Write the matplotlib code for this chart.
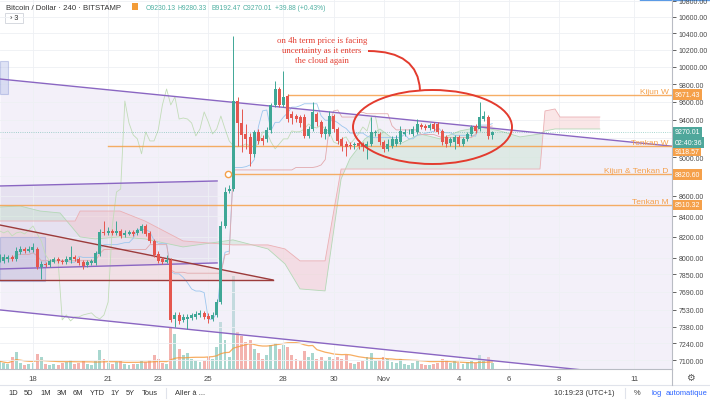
import numpy as np
import pandas as pd
import matplotlib
matplotlib.use('Agg')
import matplotlib.pyplot as plt
from matplotlib.patches import Ellipse, Polygon, Rectangle, PathPatch
from matplotlib.path import Path
from matplotlib.lines import Line2D
from matplotlib.ticker import NullLocator

plt.rcParams['font.family'] = ['Liberation Sans', 'DejaVu Sans']

# BTC/USD Bitstamp, bougies 4h. 1ere bougie : 16 oct. 16:00 (jour du mois d'octobre)
t_start = 16 + 16 / 24

opens = [7990, 7972, 7990, 8009, 7990, 8056, 8084, 8065, 8075, 8084,
         7916, 7944, 7935, 7962, 7990, 7972, 7962, 7981, 8009, 7990,
         7962, 7935, 7953, 7953, 8037, 8246, 8237, 8256, 8237, 8256,
         8217, 8227, 8246, 8237, 8256, 8304, 8237, 8160, 8037, 7990,
         7962, 7981, 7450, 7484, 7441, 7450, 7458, 7467, 7484, 7502,
         7475, 7450, 7484, 7598, 8304, 8650, 8670, 9609, 9365, 9246,
         9214, 9034, 9268, 9204, 9193, 9290, 9565, 9745, 9565, 9666,
         9464, 9442, 9431, 9431, 9225, 9300, 9464, 9376, 9246, 9246,
         9442, 9300, 9193, 9139, 9129, 9129, 9150, 9139, 9108, 9139,
         9257, 9246, 9161, 9087, 9118, 9139, 9161, 9246, 9268, 9246,
         9268, 9344, 9333, 9311, 9355, 9355, 9279, 9214, 9150, 9161,
         9214, 9139, 9193, 9246, 9333, 9300, 9409, 9431, 9230.13]
highs = [8037, 8037, 8028, 8028, 8103, 8112, 8103, 8112, 8141, 8103,
         7972, 7962, 7990, 8009, 8009, 7990, 8018, 8112, 8028, 8009,
         7981, 7981, 7990, 8065, 8275, 8352, 8295, 8275, 8352, 8275,
         8265, 8265, 8265, 8285, 8323, 8323, 8256, 8179, 8065, 8009,
         8028, 8000, 7510, 7510, 7493, 7493, 7502, 7519, 7528, 7519,
         7502, 7510, 7625, 8352, 8691, 8711, 10367, 9654, 9520, 9355,
         9257, 9290, 9300, 9236, 9322, 9587, 9836, 9767, 9952, 9688,
         9498, 9464, 9453, 9464, 9333, 9598, 9487, 9398, 9333, 9498,
         9464, 9322, 9214, 9171, 9161, 9161, 9182, 9161, 9171, 9431,
         9290, 9268, 9182, 9193, 9225, 9236, 9333, 9300, 9300, 9333,
         9409, 9365, 9355, 9365, 9376, 9376, 9300, 9236, 9214, 9236,
         9236, 9214, 9268, 9344, 9355, 9598, 9498, 9453, 9280.33]
lows = [7962, 7953, 7962, 7972, 7972, 8037, 8046, 8056, 8056, 7897,
        7805, 7916, 7916, 7953, 7953, 7944, 7944, 7953, 7972, 7935,
        7897, 7916, 7935, 7935, 8018, 8217, 8217, 8217, 8217, 8189,
        8198, 8217, 8208, 8217, 8237, 8208, 8141, 8009, 7953, 7944,
        7953, 7424, 7381, 7407, 7424, 7364, 7441, 7450, 7467, 7450,
        7415, 7432, 7467, 7580, 8285, 8630, 8650, 9118, 9055, 9087,
        8909, 9003, 9139, 9129, 9161, 9257, 9542, 9542, 9542, 9376,
        9355, 9376, 9322, 9204, 9204, 9279, 9333, 9214, 9193, 9225,
        9268, 9139, 9066, 9013, 9087, 9087, 9087, 9066, 8982, 9118,
        9225, 9129, 9055, 9066, 9097, 9118, 9139, 9225, 9246, 9225,
        9246, 9300, 9290, 9290, 9279, 9246, 9129, 9108, 9118, 9087,
        9118, 9118, 9171, 9225, 9257, 9279, 9387, 9193, 9192.47]
closes = [8009, 8009, 8009, 7990, 8065, 8084, 8065, 8084, 8103, 7916,
          7944, 7935, 7972, 7990, 7972, 7962, 7990, 8009, 7990, 7953,
          7926, 7962, 7972, 8046, 8246, 8237, 8256, 8237, 8256, 8208,
          8237, 8246, 8227, 8265, 8304, 8227, 8160, 8028, 7972, 7962,
          7981, 7441, 7484, 7432, 7467, 7467, 7484, 7493, 7502, 7467,
          7450, 7484, 7598, 8304, 8640, 8670, 9609, 9365, 9236, 9193,
          9034, 9268, 9171, 9171, 9290, 9565, 9745, 9565, 9654, 9409,
          9420, 9409, 9365, 9225, 9300, 9487, 9376, 9246, 9300, 9442,
          9300, 9171, 9118, 9108, 9118, 9139, 9118, 9108, 9139, 9268,
          9262, 9161, 9087, 9139, 9193, 9193, 9279, 9268, 9272, 9300,
          9355, 9322, 9311, 9344, 9300, 9268, 9161, 9139, 9193, 9214,
          9139, 9193, 9246, 9322, 9279, 9431, 9442, 9225, 9270.01]
volumes = [1600, 1200, 1000, 2400, 3400, 1200, 800, 1000, 1200,
           3000, 2400, 1000, 800, 1000, 800, 1200, 1400, 1800, 1000, 1200, 1600,
           1000, 800, 1600, 3800, 2000, 1200, 1000, 1400, 1600, 1000,
           800, 1000, 1000, 1600, 1400, 1800, 2800, 2000, 1200, 1000,
           8400, 7200, 4000, 2800, 3200, 2000, 1600, 1400, 1600, 2400,
           2000, 4400, 9600, 6000, 2400, 19000, 7600, 6800, 5600, 6000,
           4000, 3200, 2000, 2800, 4800, 5200, 4000, 4800, 4400, 2800,
           2000, 1600, 3600, 2400, 3200, 2000, 2400, 1600, 2400, 2000,
           2400, 2000, 2800, 1200, 1000, 1400, 1600, 2400, 3200, 1600,
           1800, 2400, 2000, 1400, 1200, 2000, 1000, 800, 1200, 1600,
           1000, 800, 800, 1000, 1200, 2000, 1800, 1200, 1600, 1200,
           1000, 1400, 1600, 1200, 2800, 1600, 2400, 1200]

# nuage ichimoku (senkou A / B)
cloud_days = [16.68, 17.48, 18.28, 19.08, 19.68, 19.88, 20.48, 21.47, 22.47, 23.99,
              25.98, 27.38, 28.06, 28.66, 29.66, 30.30, 30.65, 31.25, 31.85, 32.65,
              33.45, 34.25, 35.05, 35.84, 36.64, 37.44, 38.24, 38.44, 38.84, 39.04,
              39.84, 40.63]
span_a = [8490, 8500, 8450, 8431, 8256, 8198, 8179, 8198, 8179, 8103,
          8170, 8084, 7944, 7715, 7697, 8772, 8982, 9193, 9300, 9139,
          9246, 9193, 9279, 9322, 9279, 9214, 9246, 9279, 9300, 9300,
          9300, 9300]
span_b = [8352, 8352, 8352, 8352, 8352, 8450, 8450, 8450, 8352, 8160,
          8122, 8122, 8084, 7972, 7972, 8875, 8875, 8875, 8875, 8875,
          8875, 8875, 8875, 8875, 8875, 8875, 8875, 9498, 9520, 9431,
          9431, 9431]

# niveaux tracés à la main
levels = [9671.43, 9118.57, 8820.60, 8510.32]
level_names = ['Kijun W', 'Tenkan W', 'Kijun & Tenkan D', 'Tenkan M']
level_start = [28.18, 21.0, 25.78, 16.68]
label_shift = [0.8, -3.8, 0, 0]   # decalage (pt) des etiquettes de l'axe pour eviter les chevauchements

# canaux / figures dessinés (jour, prix)
chan_days = [16.683, 43.51]
chan_top = [9859, 9115]
chan_bot = [7528, 6943]
chan2_days = [16.683, 25.35]
chan2_top = [8701, 8752]
chan2_bot = [7897, 7953]
tri_days = [16.683, 27.58, 16.683]
tri_prices = [8313, 7796, 7796]

price_ticks = [7100, 7240, 7380, 7530, 7690, 7850, 8000, 8200, 8400, 8600, 8800,
               9000, 9200, 9400, 9600, 9800, 10000, 10200, 10400, 10600, 10800]
hidden_ticks = [8800, 9200]   # caches par les etiquettes de niveaux
date_ticks = [18, 21, 23, 25, 28, 30, 32, 35, 37, 39, 42]
date_labels = ['18', '21', '23', '25', '28', '30', 'Nov', '4', '6', '8', '11']

green = '#3fa796'
red = '#e5574f'
orange = '#f5a04a'
purple = '#8a66c2'
W, H = 710, 402


def fx(x):
    return x / W


def fy(y):
    return 1 - y / H


fig = plt.figure(figsize=(7.1, 4.02), dpi=100)
ax = fig.add_axes([0, 32 / H, 672 / W, 370 / H])
ax2 = ax.twinx()
ax.set_zorder(2)
ax2.set_zorder(1)
ax.patch.set_visible(False)

ax.set_yscale('log')
ax.set_xlim(16.683, 43.51)
ax.set_ylim(7026, 10825)

t = t_start + np.arange(len(closes)) / 6
o = np.array(opens)
h = np.array(highs)
l = np.array(lows)
c = np.array(closes)
v = np.array(volumes)
up = c >= o

# volume
ax2.bar(t, v, width=0.7 / 6, color=np.where(up, green, red), alpha=0.45, lw=0)
ax2.plot(t, pd.Series(v).rolling(20, min_periods=1).mean(), color='#f59a3c', lw=0.9, alpha=0.8)
ax2.set_ylim(0, v.max() / 0.252)
ax2.set_yticks([])
for s in ax2.spines.values():
    s.set_visible(False)

# canaux
ax.fill_between(chan_days, chan_top, chan_bot, color='#e6def2', alpha=0.45, lw=0, zorder=0)
ax.plot(chan_days, chan_top, color=purple, lw=1.0, zorder=4)
ax.plot(chan_days, chan_bot, color=purple, lw=1.0, zorder=4)
ax.fill_between(chan2_days, chan2_top, chan2_bot, color='#cfc7e0', alpha=0.35, lw=0, zorder=0)
ax.plot(chan2_days, chan2_top, color=purple, lw=1.0, zorder=4)
ax.plot(chan2_days, chan2_bot, color=purple, lw=1.0, zorder=4)
ax.add_patch(Polygon(list(zip(tri_days, tri_prices)), closed=True, fc='#f0c4c4', alpha=0.35,
                     ec='none', zorder=1))
ax.plot(tri_days[:2], tri_prices[:2], color='#9c3b3b', lw=1.0, zorder=4)
ax.plot([tri_days[0], tri_days[1]], [tri_prices[2], tri_prices[2]], color='#9c3b3b', lw=1.0, zorder=4)
ax.add_patch(Rectangle((16.683, 7787), 1.8, 8198 - 7787, fc='#b9c2ea', alpha=0.45,
                       ec='#8e9bd6', lw=0.8, zorder=1))
ax.add_patch(Rectangle((16.683, 9688), 0.32, 10069 - 9688, fc='#b9c2ea', alpha=0.45,
                       ec='#8e9bd6', lw=0.8, zorder=1))

# ichimoku
cd = np.array(cloud_days)
sa = np.array(span_a)
sb = np.array(span_b)
ax.fill_between(cd, sa, sb, where=sa >= sb, interpolate=True, color='#b9dcc2', alpha=0.35, lw=0, zorder=1)
ax.fill_between(cd, sa, sb, where=sa < sb, interpolate=True, color='#f3b9bd', alpha=0.35, lw=0, zorder=1)
ax.plot(cd, sa, color='#b4d8b6', lw=0.6, zorder=2)
ax.plot(cd, sb, color='#ebb0b4', lw=0.6, zorder=2)
hs = pd.Series(highs)
ls_ = pd.Series(lows)
tenkan = (hs.rolling(9, min_periods=1).max() + ls_.rolling(9, min_periods=1).min()) / 2
kijun = (hs.rolling(26, min_periods=1).max() + ls_.rolling(26, min_periods=1).min()) / 2
ax.plot(t, tenkan, color='#9cc6ee', lw=0.6, zorder=3)
ax.plot(t, kijun, color='#e2a9ad', lw=0.6, zorder=3)
ax.plot(t - 26 / 6, c, color='#c2dcb8', lw=0.6, zorder=3)

# niveaux horizontaux
ytr = ax.get_yaxis_transform()
for lv, name, st, dy in zip(levels, level_names, level_start, label_shift):
    ax.plot([st, 43.51], [lv, lv], color=orange, lw=1.0, alpha=0.85, zorder=4)
    ax.text(0.995, lv, name, transform=ytr, ha='right', va='bottom',
            fontsize=6, color=orange, zorder=7)
    ax.annotate('%.2f' % lv, xy=(1.004, lv), xycoords=ytr, xytext=(0, dy),
                textcoords='offset points', ha='left', va='center',
                fontsize=5.0, color='white', zorder=8,
                bbox=dict(boxstyle='square,pad=0.25', fc=orange, ec='none'))
ax.plot([25.78], [8820.60], 'o', ms=4.5, mfc='white', mec=orange, mew=1.0, zorder=8)

# prix courant
ax.axhline(closes[-1], color=green, lw=0.6, ls=':', alpha=0.6, zorder=3)
ax.text(1.004, closes[-1], '%.2f' % closes[-1], transform=ytr,
        ha='left', va='center', fontsize=5.0, color='white', zorder=9,
        bbox=dict(boxstyle='square,pad=0.25', fc='#4fa79b', ec='none'))
ax.annotate('02:40:36', xy=(1.004, closes[-1]), xycoords=ytr,
            xytext=(0, -7.6), textcoords='offset points', ha='left', va='center',
            fontsize=5.0, color='white', zorder=9,
            bbox=dict(boxstyle='square,pad=0.25', fc='#4fa79b', ec='none'))

# bougies
col = np.where(up, green, red)
ax.vlines(t, l, h, colors=col, lw=0.7, zorder=5)
ax.bar(t, np.maximum(np.abs(c - o), 4), bottom=np.minimum(o, c), width=0.72 / 6,
       color=col, lw=0, zorder=6)

# axes
ax.yaxis.tick_right()
ax.yaxis.set_minor_locator(NullLocator())
ax.set_yticks(price_ticks)
ax.set_yticklabels(['' if p in hidden_ticks else '%.2f' % p for p in price_ticks])
ax.tick_params(axis='y', length=3, width=0.6, pad=2, labelsize=5.0, colors='#4a4a4a')
ax.set_xticks(date_ticks)
ax.set_xticklabels(date_labels)
ax.tick_params(axis='x', length=0, pad=4, labelsize=5.6, colors='#4a4a4a')
ax.grid(True, color='#eef0f4', lw=0.6, zorder=0)
ax.set_axisbelow(True)
ax2.grid(False)
for s in ['top', 'left']:
    ax.spines[s].set_visible(False)
ax.spines['right'].set_color('#b9bcc4')
ax.spines['bottom'].set_color('#b9bcc4')
ax.spines['right'].set_linewidth(0.8)
ax.spines['bottom'].set_linewidth(0.8)

# annotation
ax.text(322 / 672, 1 - 51 / 370, 'on 4h term price is facing\nuncertainty as it enters\nthe cloud again',
        transform=ax.transAxes, ha='center', va='center', fontsize=6.3, color='#e33b2e',
        family='Liberation Serif', linespacing=1.35, zorder=9)
ax.add_patch(Ellipse((432.5 / 672, 1 - 128 / 370), 159 / 672, 74 / 370, transform=ax.transAxes,
                     fill=False, ec='#e33b2e', lw=1.4, zorder=9))
arc = Path([(368 / 672, 1 - 52 / 370), (418 / 672, 1 - 52 / 370), (420 / 672, 1 - 91 / 370)],
           [Path.MOVETO, Path.CURVE3, Path.CURVE3])
ax.add_patch(PathPatch(arc, transform=ax.transAxes, fill=False, ec='#e33b2e', lw=1.4, zorder=9))

# entete
fig.text(fx(6), fy(8), 'Bitcoin / Dollar \u00b7 240 \u00b7 BITSTAMP', fontsize=5.6, color='#333333', va='center')
fig.add_artist(Rectangle((fx(132), fy(11)), 6 / W, 7 / H, fc='#f39c38', ec='none'))
hx = [146, 178, 211, 243, 275]
ht = ['O9230.13', 'H9280.33', 'B9192.47', 'C9270.01', '+39.88 (+0.43%)']
for x, s in zip(hx, ht):
    fig.text(fx(x), fy(8), s, fontsize=4.9, color='#4fb0a2', va='center')
fig.add_artist(Rectangle((fx(5), fy(24)), 18 / W, 10 / H, fc='white', ec='#d0d3da', lw=0.6))
fig.text(fx(14), fy(19), '\u203a 3', fontsize=5.2, color='#333333', va='center', ha='center')
fig.add_artist(Line2D([fx(640), fx(710)], [fy(0.6), fy(0.6)], color='#5b9be6', lw=1.0))

# barre du bas
fig.add_artist(Line2D([0, 1], [fy(386), fy(386)], color='#e0e3eb', lw=0.8))
fig.add_artist(Line2D([fx(672), fx(672)], [fy(370), fy(386)], color='#b9bcc4', lw=0.8))
fig.text(fx(690), fy(378), '\u2699', fontsize=7, color='#555555', ha='center', va='center',
         family='DejaVu Sans')
tb = ['1D', '5D', '1M', '3M', '6M', 'YTD', '1Y', '5Y', 'Tous']
tbx = [8, 24, 40, 57, 73, 90, 110, 126, 142]
for x, s in zip(tbx, tb):
    fig.text(fx(x), fy(394), s, fontsize=5.4, color='#333333', va='center')
fig.add_artist(Line2D([fx(166), fx(166)], [fy(389), fy(399)], color='#e0e3eb', lw=0.8))
fig.text(fx(175), fy(394), 'Aller \u00e0 ...', fontsize=5.4, color='#333333', va='center')
fig.text(fx(614), fy(394), '10:19:23 (UTC+1)', fontsize=5.4, color='#333333', va='center', ha='right')
fig.add_artist(Line2D([fx(625), fx(625)], [fy(389), fy(399)], color='#e0e3eb', lw=0.8))
fig.text(fx(634), fy(394), '%', fontsize=5.4, color='#333333', va='center')
fig.text(fx(651), fy(394), 'log', fontsize=5.4, color='#2962ff', va='center')
fig.text(fx(666), fy(394), 'automatique', fontsize=5.4, color='#2962ff', va='center')

fig.savefig('out.png', dpi=100)
